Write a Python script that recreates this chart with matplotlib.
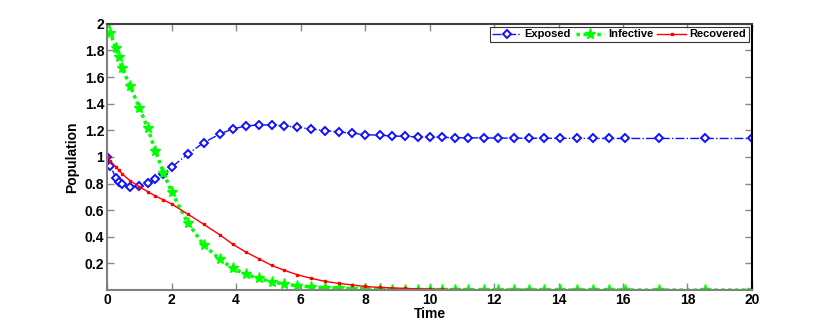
import numpy as np
import matplotlib
matplotlib.use('Agg')
import matplotlib.pyplot as plt

plt.rcParams['font.family'] = ['Liberation Sans', 'DejaVu Sans']
plt.rcParams['font.weight'] = 'bold'

# time points of the solver output
t = [0, 0.1, 0.27, 0.37, 0.46, 0.72, 1.0, 1.26, 1.5, 1.75, 2.0, 2.5, 3.0, 3.5,
     3.9, 4.3, 4.7, 5.1, 5.5, 5.9, 6.33, 6.76, 7.19, 7.6, 8.0, 8.45, 8.84, 9.24,
     9.63, 10.0, 10.38, 10.79, 11.19, 11.69, 12.13, 12.62, 13.09, 13.55, 14.05,
     14.57, 15.06, 15.56, 16.06, 17.12, 18.54, 20.0]

exposed = [1.0, 0.932, 0.845, 0.815, 0.795, 0.772, 0.782, 0.802, 0.832, 0.872,
           0.922, 1.022, 1.108, 1.173, 1.21, 1.233, 1.241, 1.241, 1.233, 1.223,
           1.21, 1.198, 1.188, 1.178, 1.168, 1.163, 1.158, 1.154, 1.151, 1.149,
           1.147, 1.145, 1.144, 1.143, 1.142, 1.141, 1.141, 1.14, 1.14, 1.14,
           1.139, 1.139, 1.139, 1.139, 1.139, 1.139]

infective = [2.0, 1.93, 1.82, 1.75, 1.67, 1.53, 1.37, 1.216, 1.045, 0.882,
             0.739, 0.506, 0.338, 0.231, 0.163, 0.118, 0.088, 0.062, 0.045,
             0.032, 0.024, 0.018, 0.013, 0.01, 0.007, 0.005, 0.004, 0.003,
             0.002, 0.0015, 0.001, 0.001, 0.0005, 0.0005, 0.0003, 0.0002,
             0.0002, 0.0001, 0.0001, 0.0001, 0.0, 0.0, 0.0, 0.0, 0.0, 0.0]

recovered = [1.0, 0.97, 0.925, 0.9, 0.875, 0.82, 0.777, 0.739, 0.707, 0.677,
             0.647, 0.571, 0.494, 0.414, 0.344, 0.286, 0.236, 0.186, 0.148,
             0.115, 0.088, 0.065, 0.05, 0.038, 0.027, 0.02, 0.016, 0.012,
             0.009, 0.007, 0.005, 0.004, 0.003, 0.002, 0.0015, 0.001, 0.001,
             0.0007, 0.0005, 0.0004, 0.0003, 0.0002, 0.0002, 0.0001, 0.0001,
             0.0001]

xticks = [0, 2, 4, 6, 8, 10, 12, 14, 16, 18, 20]
yticks = [0.2, 0.4, 0.6, 0.8, 1, 1.2, 1.4, 1.6, 1.8, 2]
ylabels = ['0.2', '0.4', '0.6', '0.8', '1', '1.2', '1.4', '1.6', '1.8', '2']

fig = plt.figure(figsize=(8.3, 3.27), dpi=100)
ax = fig.add_axes([0.129, 0.113, 0.777, 0.814])

ax.plot(t, exposed, color='#1010ff', linestyle='-.', linewidth=1.0,
        marker='D', markersize=4, markerfacecolor='white',
        markeredgecolor='#1010ff', markeredgewidth=1.4, label='Exposed')
ax.plot(t, infective, color='#00ff00', linestyle=(0, (1, 1)), linewidth=2.5,
        marker='*', markersize=8, markerfacecolor='#00ff00',
        markeredgecolor='#00ff00', label='Infective')
ax.plot(t, recovered, color='#ff0000', linestyle='-', linewidth=1.0,
        marker='s', markersize=2, markerfacecolor='#ff0000',
        markeredgecolor='#ff0000', label='Recovered')

ax.set_xlim(0, 20)
ax.set_ylim(0, 2)
ax.set_xticks(xticks)
ax.set_xticklabels([str(x) for x in xticks])
ax.set_yticks(yticks)
ax.set_yticklabels(ylabels)
ax.tick_params(direction='in', top=True, right=True, length=5, width=1,
               labelsize=10, pad=2, color='#888888')
for lab in ax.get_xticklabels() + ax.get_yticklabels():
    lab.set_fontweight('bold')

ax.spines['left'].set_color('#808080')
ax.spines['bottom'].set_color('#808080')
ax.spines['top'].set_color('#404040')
ax.spines['right'].set_color('black')
for s in ax.spines.values():
    s.set_linewidth(1.5)

ax.set_xlabel('Time', fontsize=10, fontweight='bold', labelpad=0)
ax.set_ylabel('Population', fontsize=10, fontweight='bold', labelpad=4)

leg = ax.legend(loc='upper right', ncol=3, frameon=True,
                fancybox=False, borderpad=0.2, handlelength=2.6,
                handletextpad=0.3, columnspacing=0.4, borderaxespad=0.3,
                prop={'weight': 'bold', 'size': 8})
leg.get_frame().set_edgecolor('black')
leg.get_frame().set_linewidth(0.8)

fig.savefig('out.png', dpi=100)
